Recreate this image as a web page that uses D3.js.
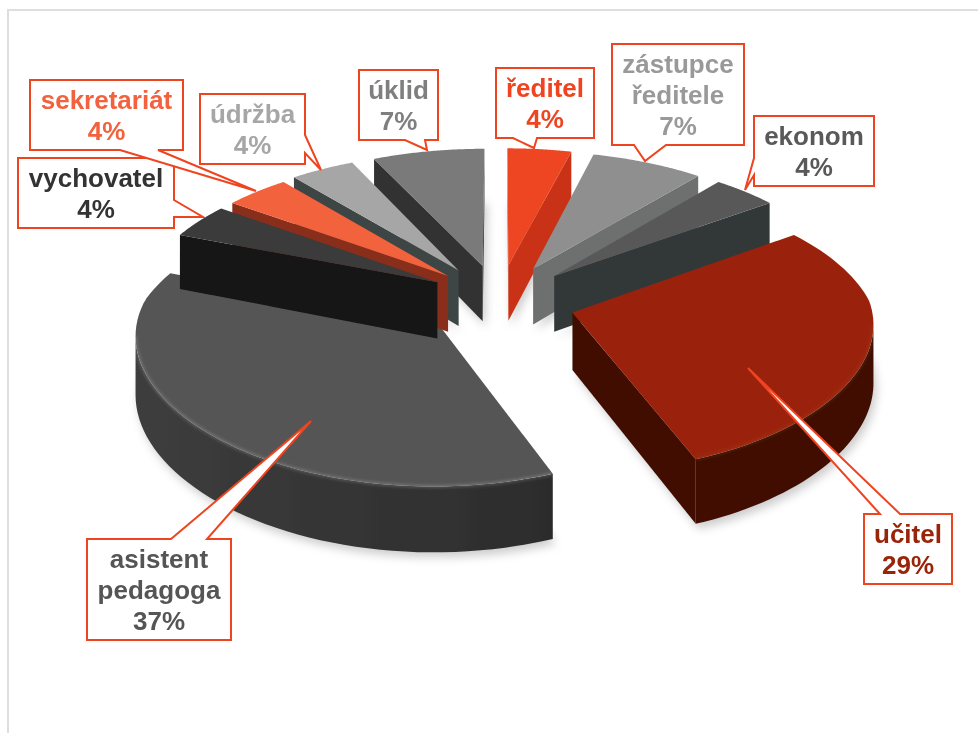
<!DOCTYPE html>
<html><head><meta charset="utf-8">
<script src="https://cdnjs.cloudflare.com/ajax/libs/d3/7.8.5/d3.min.js"></script>
<style>html,body{margin:0;padding:0;background:#fff}svg{display:block}text{font-family:"Liberation Sans",Arial,sans-serif;font-weight:bold;font-size:26px;text-anchor:middle}</style>
</head><body><svg id="c" width="978" height="733"></svg>
<script>
const categories=["ředitel","zástupce ředitele","ekonom","učitel","asistent pedagoga","vychovatel","sekretariát","údržba","úklid"];
const shares=[4,7,4,29,37,4,4,4,7];
const labelLines=[["ředitel"],["zástupce","ředitele"],["ekonom"],["učitel"],["asistent","pedagoga"],["vychovatel"],["sekretariát"],["údržba"],["úklid"]];
const topColors=["#EE4420","#8F8F8F","#595959","#9A2408","#555555","#3A3A3A","#F2623E","#A6A6A6","#7A7A7A"];
const wallColors=["#C93212","#6E7070","#333838","#3F0F00","#343434","#141414","#8A2E1A","#3E4444","#333333"];
const textColors=["#EE4420","#999999","#595959","#9A2408","#555555","#333333","#F2623E","#A6A6A6","#7F7F7F"];
const paintOrder=[4,8,7,6,5,0,1,2,3];
const explodeAcross=[.26,.26,.26,.255,.285,.24,.24,.26,.26];
const explodeDepth=[.26,.26,.26,.32,.24,.27,.26,.26,.26];
const wallFade=[0,0,0,0,.45,0,0,0,0];
const rimOpacity=[.06,.06,.06,.05,.18,.06,.06,.06,.06];
// callout boxes: [x0,y0,x1,y1], wedge [base a, tip, base b]
const boxes=[[496,68,594,138],[612,44,744,145],[754,116,874,186],[864,514,952,584],[87,539,231,640],[18,158,174,228],[30,80,183,150],[200,94,305,164],[359,70,438,140]];
const wedges=[[[513,138],[534,148],[537,138]],[[634,145],[645,161],[666,145]],[[754,158],[745,190],[754,175]],[[880,514],[748,368],[900,514]],[[171,539],[311,421],[207,539]],[[174,200],[203,217],[174,217]],[[120,150],[256,191],[158,150]],[[305,135],[321,170],[305,153]],[[405,140],[427,150],[425,140]]];

const perspY=0.115, perspXBack=0.13, perspXFront=0.07, depth=57;
const xScale=d3.scaleLinear().domain([0,1]).range([499,797]);
const yScale=d3.scaleLinear().domain([0,1]).range([300,162]);
function project(u,v,z){
  const sy=1/(1+perspY*v),sx=1/(1+(v>0?perspXBack:perspXFront)*v);
  return [xScale(u*sx),yScale(v*sy)+(z?depth*sy:0)];
}
const svg=d3.select("#c"),defs=svg.append("defs");
const blur=(id,d)=>defs.append("filter").attr("id",id).attr("x","-20%").attr("y","-20%").attr("width","140%").attr("height","140%").append("feGaussianBlur").attr("stdDeviation",d);
blur("sh",5);blur("soft",0.6);blur("rim",1.5);
svg.append("path").attr("d","M8,733V10H978").attr("fill","none").attr("stroke","#DEDEDE").attr("stroke-width",2);

const line=d3.line();
const pie=d3.pie().sort(null)(shares);
const geoms=pie.map((p,i)=>{
  const mid=(p.startAngle+p.endAngle)/2,ex=explodeAcross[i]*Math.sin(mid),ey=explodeDepth[i]*Math.cos(mid);
  const arc=d3.range(0,61).map(t=>{const a=p.startAngle+(p.endAngle-p.startAngle)*t/60;return [Math.sin(a)+ex,Math.cos(a)+ey];});
  return {i,apex:[ex,ey],arc};
});
const P=(q,z)=>project(q[0],q[1],z);
const shadows=svg.append("g").attr("filter","url(#sh)");
geoms.forEach(g=>{const pts=[g.apex,...g.arc].map(q=>P(q,1)).map(([x,y])=>[x+3,y+5]);
  shadows.append("path").attr("d",line(pts)+"Z").attr("fill","#000").attr("opacity",.2);});
const root=svg.append("g").attr("filter","url(#soft)");
function wallPoly(run){return line([...run.map(q=>P(q,0)),...run.slice().reverse().map(q=>P(q,1))])+"Z";}
paintOrder.forEach(i=>{
  const g=geoms[i],c=wallColors[i];
  const leftward=(a,b)=>P(b,0)[0]-P(a,0)[0]<0;
  if(leftward(g.apex,g.arc[0]))root.append("path").attr("d",wallPoly([g.apex,g.arc[0]])).attr("fill",c);
  if(leftward(g.arc[g.arc.length-1],g.apex))root.append("path").attr("d",wallPoly([g.arc[g.arc.length-1],g.apex])).attr("fill",c);
  const run=g.arc.filter((q,k)=>(k<g.arc.length-1&&leftward(q,g.arc[k+1]))||(k>0&&leftward(g.arc[k-1],q)));
  if(run.length>2){
    const gid="w"+i,gr=defs.append("linearGradient").attr("id",gid);
    gr.append("stop").attr("offset",0).attr("stop-color",d3.color(c).brighter(wallFade[i]));
    gr.append("stop").attr("offset",1).attr("stop-color",d3.color(c).darker(wallFade[i]));
    root.append("path").attr("d",wallPoly(run)).attr("fill",`url(#${gid})`);
  }
  root.append("path").attr("d",line([g.apex,...g.arc].map(q=>P(q,0)))+"Z").attr("fill",topColors[i]);
  if(run.length>2)root.append("path").attr("d",line(run.map(q=>P(q,0)))).attr("fill","none").attr("stroke","#fff").attr("stroke-opacity",rimOpacity[i]).attr("stroke-width",3).attr("filter","url(#rim)");
});
const lab=svg.append("g");
categories.forEach((c,i)=>{
  const [x0,y0,x1,y1]=boxes[i],[a,t,b]=wedges[i];
  const s=lab.append("g");
  let pts;
  if(a[1]===y1&&b[1]===y1)pts=[[x0,y0],[x1,y0],[x1,y1],b,t,a,[x0,y1]];
  else if(a[1]===y0&&b[1]===y0)pts=[[x0,y0],a,t,b,[x1,y0],[x1,y1],[x0,y1]];
  else if(a[0]===x1)pts=[[x0,y0],[x1,y0],a,t,b,[x1,y1],[x0,y1]];
  else pts=[[x0,y0],[x1,y0],[x1,y1],[x0,y1],b,t,a];
  s.append("path").attr("d",line(pts)+"Z").attr("fill","#fff").attr("stroke","#EE4420").attr("stroke-width",2);
  const lines=[...labelLines[i],shares[i]+"%"],cx=(x0+x1)/2,cy=(y0+y1)/2;
  lines.forEach((l,k)=>s.append("text").attr("x",cx).attr("y",cy+(k-(lines.length-1)/2)*31+9.5).attr("fill",textColors[i]).text(l));
});
</script></body></html>
